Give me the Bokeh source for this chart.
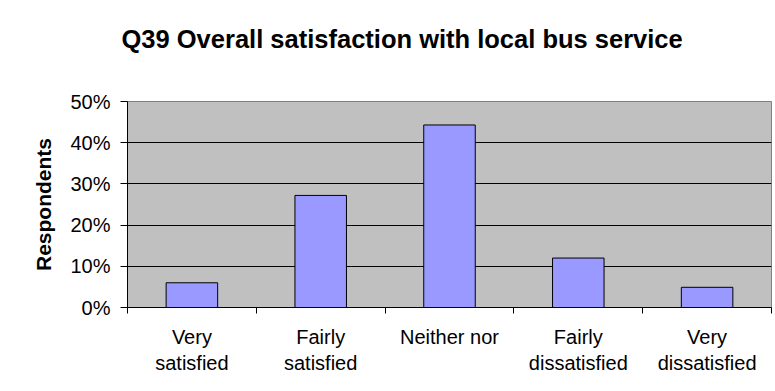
from bokeh.plotting import figure
from bokeh.models import (Range1d, FixedTicker, NumeralTickFormatter,
                          CustomJSTickFormatter, Title)
from bokeh.embed import file_html
from bokeh.resources import INLINE

categories = ["Very\nsatisfied", "Fairly\nsatisfied", "Neither nor",
              "Fairly\ndissatisfied", "Very\ndissatisfied"]
values = [0.060, 0.272, 0.443, 0.120, 0.049]
y_ticks = [0.0, 0.1, 0.2, 0.3, 0.4, 0.5]
title_text = "Q39 Overall satisfaction with local bus service"
y_label = "Respondents"

n = len(categories)
centers = [i + 0.5 for i in range(n)]
bounds = list(range(n + 1))

FONT = "Liberation Sans"

p = figure(width=773, height=389, output_backend="svg", toolbar_location=None,
           x_range=Range1d(0, n), y_range=Range1d(y_ticks[0], y_ticks[-1]),
           min_border_left=127, min_border_right=2,
           min_border_top=101, min_border_bottom=82)

p.background_fill_color = "#C0C0C0"
p.border_fill_color = "white"
p.outline_line_color = "#808080"
p.outline_line_width = 1

# spacer between the frame and the title, then the title itself
p.add_layout(Title(text=" ", text_font_size="2px", standoff=33), "above")
p.add_layout(Title(text=title_text, text_font=FONT, text_font_size="25.5px",
                   text_font_style="bold", text_color="black",
                   align="left", offset=-6, standoff=24), "above")

# bars
p.vbar(x=centers, top=values, width=0.4, bottom=0,
       fill_color="#9999FF", line_color="black", line_width=1)

# grid
p.xgrid.visible = False
p.ygrid.ticker = FixedTicker(ticks=y_ticks[1:-1])
p.ygrid.grid_line_color = "black"
p.ygrid.grid_line_width = 1

# y axis
p.yaxis.ticker = FixedTicker(ticks=y_ticks)
p.yaxis.formatter = NumeralTickFormatter(format="0%")
p.yaxis.axis_line_color = "black"
p.yaxis.major_tick_line_color = "black"
p.yaxis.major_tick_out = 7
p.yaxis.major_tick_in = 0
p.yaxis.minor_tick_line_color = None
p.yaxis.major_label_text_font = FONT
p.yaxis.major_label_text_font_size = "20px"
p.yaxis.major_label_text_color = "black"
p.yaxis.major_label_standoff = 10
p.yaxis.axis_label = y_label
p.yaxis.axis_label_text_font = FONT
p.yaxis.axis_label_text_font_size = "21px"
p.yaxis.axis_label_text_font_style = "bold"
p.yaxis.axis_label_text_color = "black"
p.yaxis.axis_label_standoff = 12

# x axis
p.xaxis.ticker = FixedTicker(ticks=centers, minor_ticks=bounds)
p.xaxis.formatter = CustomJSTickFormatter(
    args=dict(labels=categories),
    code="const i = Math.floor(tick); return (i >= 0 && i < labels.length) ? labels[i] : '';")
p.xaxis.axis_line_color = "black"
p.xaxis.major_tick_line_color = None
p.xaxis.major_tick_out = 0
p.xaxis.major_tick_in = 0
p.xaxis.minor_tick_line_color = "black"
p.xaxis.minor_tick_out = 6
p.xaxis.minor_tick_in = 0
p.xaxis.major_label_text_font = FONT
p.xaxis.major_label_text_font_size = "20px"
p.xaxis.major_label_text_color = "black"
p.xaxis.major_label_text_line_height = 1.2
p.xaxis.major_label_standoff = 12

open("out.html", "w").write(file_html(p, INLINE))
